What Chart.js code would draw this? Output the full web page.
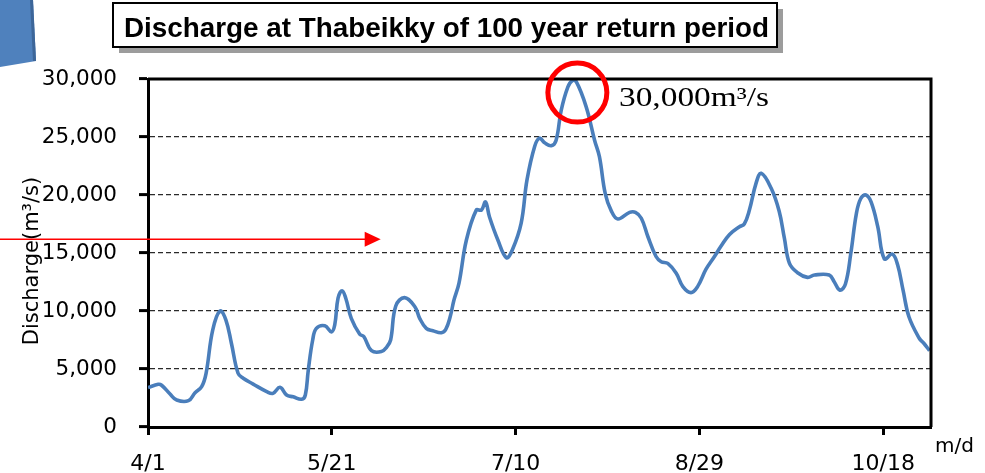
<!DOCTYPE html>
<html>
<head>
<meta charset="utf-8">
<script src="https://cdn.jsdelivr.net/npm/chart.js@4.4.1/dist/chart.umd.min.js"></script>
<style>
html,body{margin:0;padding:0;background:#fff;overflow:hidden}
#wrap{width:985px;height:473px;position:relative}
</style>
</head>
<body>
<div id="wrap"><canvas id="c" width="985" height="473"></canvas></div>
<script>
// ---- data (days counted from 4/1) ----
const days = [0,2.8,3.7,6,7.8,11,12.8,14.6,15.8,17.6,19.6,21.2,22.7,24.5,25.9,28.6,32.3,34,35.9,37.7,39.5,41.8,42.8,43.6,44.8,45.8,48.1,49.9,50.8,51.7,52.8,53.8,55.3,57.6,58.7,60.8,63.5,64.9,66,67.4,69.8,72.6,73.9,75.7,77.5,79.8,81,82.2,83.2,84.6,86.6,89.3,90.7,91.8,92.9,95.2,97.5,99.1,101.5,103.1,105.2,106.5,107.9,109.7,111,112.4,114.2,115.4,116.5,119.2,121.5,122.8,124.4,126,127.8,131,132.6,134.2,136,138.2,139.6,141.4,143.7,145.5,147.7,149.5,151.8,154.1,155.9,158.2,160.9,162.2,163.6,165.4,166.8,169.5,171.7,173.1,174.5,176.7,179.4,181.3,185.3,186.7,188.2,189.7,191.2,192.7,193.9,195.3,196.7,198.5,200.3,202.5,203.9,205.4,207,209.8,211.1,212.6];
const discharge = [3400,3680,3600,2840,2330,2270,2960,3480,4630,8360,10000,9220,7200,4630,4200,3700,3050,2900,3420,2760,2600,2390,2760,4900,7500,8500,8730,8200,8800,11100,11750,11100,9370,8000,7800,6580,6500,6870,7500,10430,11150,10370,9370,8500,8300,8130,8420,9500,10900,12400,16100,18700,18700,19400,18100,16100,14600,15260,17560,21300,24200,24900,24500,24250,24700,27300,29300,29850,29770,27600,24700,23300,20100,18650,17930,18500,18500,18000,16400,14700,14250,14100,13250,12100,11580,12100,13600,14700,15600,16600,17270,17500,18700,21000,21870,20600,18600,16300,14100,13300,12900,13100,13100,12500,11800,12300,15000,18400,19700,20000,19400,17300,14500,14900,14000,11800,9500,7650,7200,6580];
const tickDays = [0,50,100,150,200];
const tickLabels = ['4/1','5/21','7/10','8/29','10/18'];
const chartTitle = 'Discharge at Thabeikky of 100 year return period';
const yAxisTitle = 'Discharge(m³/s)';
const xAxisUnit = 'm/d';
const peakLabel = '30,000m³/s';
const peakCircle = [116.8, 28830];   // data-space centre of the red circle
const arrowLevel = 16180;            // discharge level of the red arrow
const arrowEndDay = 63.3;

const deco = {
  id:'deco',
  afterDraw(chart){
    const {ctx, chartArea:a, scales:{x,y}} = chart;
    ctx.save();
    // plot frame (top + right)
    ctx.strokeStyle = '#000'; ctx.lineWidth = 3;
    ctx.beginPath();
    ctx.moveTo(a.left, a.top); ctx.lineTo(a.right, a.top); ctx.lineTo(a.right, a.bottom);
    ctx.stroke();

    // blue shape top-left
    ctx.fillStyle = '#4f81bd';
    ctx.beginPath(); ctx.moveTo(0,0); ctx.lineTo(33,0); ctx.lineTo(36,61); ctx.lineTo(0,67); ctx.closePath(); ctx.fill();
    ctx.fillStyle = '#3d6699';
    ctx.beginPath(); ctx.moveTo(30,0); ctx.lineTo(33,0); ctx.lineTo(36,61); ctx.lineTo(33,61); ctx.closePath(); ctx.fill();

    // title box
    const bx=113, by=3, bw=664, bh=44;
    ctx.fillStyle = '#9c9c9c'; ctx.fillRect(bx+6, by+6, bw, bh);
    ctx.fillStyle = '#fff'; ctx.fillRect(bx, by, bw, bh);
    ctx.lineWidth = 2; ctx.strokeStyle = '#000'; ctx.strokeRect(bx, by, bw, bh);
    ctx.fillStyle = '#000';
    ctx.font = 'bold 28px "Liberation Sans"';
    ctx.textBaseline = 'alphabetic'; ctx.textAlign = 'left';
    let w = ctx.measureText(chartTitle).width;
    ctx.save(); ctx.translate(124, 37); ctx.scale(645/w, 1); ctx.fillText(chartTitle, 0, 0); ctx.restore();

    // y axis title
    ctx.save();
    ctx.font = '21px "DejaVu Sans"';
    ctx.translate(33, 261); ctx.rotate(-Math.PI/2);
    ctx.textAlign = 'center'; ctx.textBaseline = 'middle';
    ctx.fillText(yAxisTitle, 0, 0);
    ctx.restore();

    // x unit
    ctx.font = '20px "DejaVu Sans"'; ctx.textAlign = 'left'; ctx.textBaseline = 'middle';
    ctx.fillText(xAxisUnit, 935, 447);

    // red arrow
    const ay = y.getPixelForValue(arrowLevel), ax = x.getPixelForValue(arrowEndDay);
    ctx.strokeStyle = '#ff0000'; ctx.fillStyle = '#ff0000'; ctx.lineWidth = 1.5;
    ctx.beginPath(); ctx.moveTo(0, ay); ctx.lineTo(ax-14, ay); ctx.stroke();
    ctx.beginPath(); ctx.moveTo(ax, ay); ctx.lineTo(ax-16, ay-7.5); ctx.lineTo(ax-16, ay+7.5); ctx.closePath(); ctx.fill();

    // red circle
    const cx = x.getPixelForValue(peakCircle[0]), cy = y.getPixelForValue(peakCircle[1]);
    ctx.lineWidth = 5; ctx.beginPath(); ctx.arc(cx, cy, 29.5, 0, Math.PI*2); ctx.stroke();

    // peak label
    ctx.fillStyle = '#000';
    ctx.font = '27px "Liberation Serif"'; ctx.textAlign = 'left'; ctx.textBaseline = 'alphabetic';
    w = ctx.measureText(peakLabel).width;
    ctx.save(); ctx.translate(619, 106); ctx.scale(150/w, 1); ctx.fillText(peakLabel, 0, 0); ctx.restore();
    ctx.restore();
  }
};

new Chart(document.getElementById('c'), {
  type:'line',
  data:{datasets:[{
    data: days.map((d,i)=>({x:d, y:discharge[i]})),
    borderColor:'#4a7ebb', borderWidth:3.6, pointRadius:0, tension:0.4, fill:false
  }]},
  options:{
    responsive:false, animation:false, devicePixelRatio:1,
    layout:{padding:{left:0, right:54, top:79, bottom:0}},
    plugins:{legend:{display:false}, tooltip:{enabled:false}, title:{display:false}},
    scales:{
      x:{
        type:'linear', min:0, max:213,
        afterFit(s){ s.height = 46; },
        afterBuildTicks(s){ s.ticks = tickDays.map(v=>({value:v})); },
        ticks:{callback:(v)=>tickLabels[tickDays.indexOf(v)] ?? '', color:'#000', font:{family:'"DejaVu Sans"', size:22}, padding:16, maxRotation:0, autoSkip:false},
        grid:{drawOnChartArea:false, drawTicks:true, tickLength:8, tickWidth:3, tickColor:'#000'},
        border:{display:true, color:'#000', width:3}
      },
      y:{
        min:0, max:30000,
        afterFit(s){ s.width = 148; },
        ticks:{stepSize:5000, color:'#000', font:{family:'"DejaVu Sans"', size:21.5}, padding:22, callback:(v)=>v.toLocaleString('en-US')},
        grid:{color:'#2a2a2a', lineWidth:1.2, tickLength:9, tickWidth:3, tickColor:'#000', tickBorderDash:[]},
        border:{display:true, color:'#000', width:3, dash:[5,3]}
      }
    }
  },
  plugins:[deco]
});
</script>
</body>
</html>
